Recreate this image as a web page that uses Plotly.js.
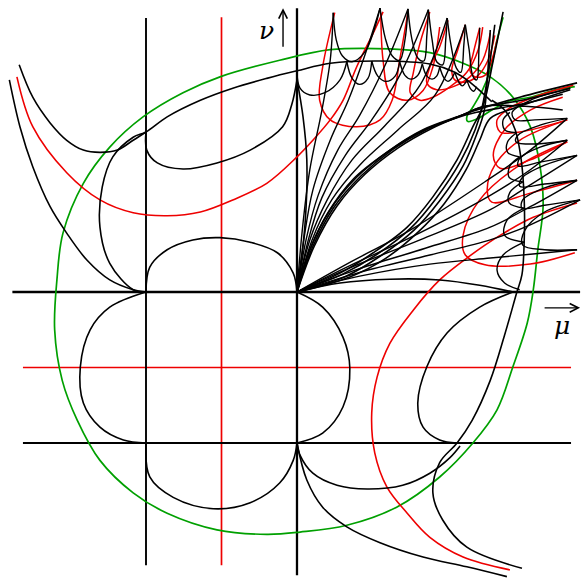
<!DOCTYPE html>
<html>
<head>
<meta charset="utf-8">
<script src="https://cdn.plot.ly/plotly-3.0.1.min.js"></script>
<style>html,body{margin:0;padding:0;background:#fff}#plot{width:581px;height:582px}</style>
</head>
<body>
<div id="plot"></div>
<script>
// Each curve: [mu values], [nu values]  (grid lines sit at mu = -2, -1, 0 and nu = -2, -1, 0)

// straight reference lines
const vLinesBlack = [[-2.00, -2.00], [3.63, -3.62]];
const vLineAxis = [[0, 0], [3.76, -3.75]];
const vLineRed = [[-1.00, -1.00], [3.64, -3.62]];
const hLineAxis = [[-3.77, 3.75], [0, 0]];
const hLineBlack = [[-3.63, 3.63], [-2.00, -2.00]];
const hLineRed = [[-3.63, 3.63], [-1.00, -1.00]];

// left half, upper
const curveA = [[-3.81,-3.67,-3.50,-3.27,-3.05,-2.78,-2.48,-2.17,-2.00],[2.81,2.19,1.66,1.13,0.78,0.42,0.16,0.03,0]];
const curveC = [[-3.68,-3.50,-3.27,-3.05,-2.83,-2.61,-2.38,-2.17,-2.00],[3.01,2.58,2.24,2.01,1.88,1.85,1.88,2.01,2.12]];
const curveD = [[-2.00,-1.99,-1.85,-1.51,-1.06,-0.62,-0.19,-0.07,0],[2.12,1.88,1.71,1.63,1.71,1.88,2.19,2.48,2.81]];
const curveB = [[-2.00,-2.17,-2.48,-2.61,-2.58,-2.44,-2.17,-2.00,-1.72,-1.28,-0.85,-0.40,0,0.44,1.10,1.76,2.09,2.29,2.45,2.58],
                [0,0.03,0.38,0.86,1.39,1.79,2.05,2.12,2.32,2.54,2.70,2.83,2.93,3.03,3.06,3.02,2.91,2.78,2.64,2.52]];
const curveE = [[-2.00,-1.95,-1.72,-1.38,-1.02,-0.62,-0.26,-0.05,0],[0,0.33,0.56,0.69,0.72,0.66,0.52,0.25,0]];
const redLeft = [[-3.71,-3.50,-3.05,-2.61,-2.17,-1.72,-1.28,-0.85,-0.40,0,0.21,0.44,0.61,0.79,1.01,1.14],
                 [2.85,2.19,1.58,1.22,1.05,1.01,1.06,1.22,1.44,1.79,2.01,2.28,2.54,2.98,3.43,3.71]];

// lower half
const curveF = [[-2.00,-2.48,-2.74,-2.87,-2.83,-2.61,-2.30,-2.00],[0,-0.20,-0.50,-0.99,-1.47,-1.79,-1.96,-2.00]];
const curveG = [[-2.00,-1.95,-1.64,-1.11,-0.62,-0.23,-0.05,0],[-2.00,-2.45,-2.72,-2.87,-2.79,-2.53,-2.23,-2.00]];
const curveH = [[0,0.34,0.61,0.70,0.61,0.34,0],[0,-0.20,-0.60,-1.01,-1.52,-1.87,-2.00]];
const curveI = [[0,0.04,0.21,0.53,0.93,1.40,1.76,2.03,2.16],[-2.00,-2.16,-2.40,-2.56,-2.61,-2.56,-2.40,-2.19,-2.04]];
const curveK = [[2.86,2.42,1.99,1.72,1.60,1.67,1.89,2.12],[0,-0.20,-0.54,-0.99,-1.47,-1.79,-1.96,-2.00]];
const curveL = [[0,0.13,0.34,0.66,1.10,1.67,2.25,2.78],[-2.00,-2.49,-2.85,-3.11,-3.32,-3.51,-3.64,-3.77]];
const spineJ = [[2.58,2.75,2.89,2.97,3.01,3.01,2.98,2.91,2.75,2.56,2.32,2.12,1.89,1.80,1.93,2.25,2.98],
                [2.54,2.41,2.15,1.75,1.22,0.69,0.23,-0.01,-0.57,-1.17,-1.70,-2.00,-2.26,-2.66,-3.02,-3.38,-3.66]];
const redRight = [[2.82,2.20,1.76,1.46,1.19,1.03,0.99,1.06,1.23,1.54,1.89,2.25,2.69,3.13,3.71],
                  [-3.68,-3.51,-3.25,-2.93,-2.58,-2.13,-1.60,-1.13,-0.68,-0.24,0.16,0.45,0.75,0.99,1.18]];

// closed green curve and its inner branch
const greenLoop = [[-3.18,-3.21,-3.11,-2.91,-2.61,-2.17,-1.72,-1.06,-0.40,0.04,0.66,1.32,1.89,2.33,2.65,2.86,3.05,3.13,3.19,3.26,3.22,3.09,2.86,2.56,2.20,1.76,1.23,0.44,-0.23,-1.02,-1.51,-2.04,-2.48,-2.83,-3.10,-3.18],
                   [0.16,-0.50,-1.17,-1.70,-2.23,-2.66,-2.93,-3.15,-3.21,-3.18,-3.09,-2.85,-2.45,-2.00,-1.56,-0.99,-0.41,0.03,0.56,1.13,1.66,2.19,2.58,2.85,3.03,3.17,3.22,3.21,3.07,2.85,2.64,2.32,1.92,1.44,0.78,0.16]];
const greenBranch = [[2.73,2.65,2.56,2.46,2.33,2.25,2.26,2.38,2.58,2.82,3.09,3.44,3.68],
                     [3.64,3.34,2.94,2.68,2.45,2.32,2.26,2.29,2.41,2.53,2.58,2.68,2.72]];

// curves along the vertical axis and the low arch on the mu axis
const axisHug = [[0,0.08,0.13,0.11,0.01],[2.81,2.32,1.75,0.95,0.03]];
const lowArch = [[0,0.57,1.23,1.89,2.42,2.86],[0,0.12,0.17,0.16,0.09,0]];

// fan of curves leaving the origin towards the top edge
const fanUp = [
  [[0,0.07,0.17,0.33,0.44,0.48],[0,0.82,1.62,2.41,3.07,3.70]],
  [[0,0.09,0.21,0.44,0.68,0.90,1.10],[0,0.69,1.35,2.01,2.54,3.14,3.76]],
  [[0,0.12,0.28,0.54,0.83,1.17,1.47],[0,0.69,1.28,1.88,2.34,3.01,3.75]],
  [[0,0.15,0.33,0.64,0.99,1.36,1.74],[0,0.69,1.25,1.81,2.28,2.87,3.74]],
  [[0,0.17,0.40,0.73,1.17,1.63,1.99],[0,0.69,1.22,1.75,2.21,2.74,3.63]],
  [[0,0.20,0.46,0.83,1.34,1.83,2.23],[0,0.69,1.22,1.68,2.15,2.61,3.54]]
];
// upper edge of the lens, bending over to the right edge
const lensUpper = [
  [[0,0.17,0.44,0.79,1.23,1.67,2.12,2.38,2.95,3.71],[0,0.56,1.09,1.52,1.88,2.15,2.32,2.41,2.58,2.77]],
  [[0,0.20,0.48,0.85,1.27,1.71,2.16,2.42,2.98,3.62],[0,0.58,1.11,1.54,1.89,2.15,2.33,2.44,2.54,2.70]],
  [[0,0.16,0.41,0.75,1.19,1.63,2.09,2.38,2.98,3.52],[0,0.53,1.05,1.50,1.85,2.12,2.30,2.38,2.49,2.62]],
  [[0,0.23,0.53,0.90,1.34,1.79,2.23,2.48,3.02,3.52],[0,0.61,1.14,1.56,1.91,2.17,2.36,2.46,2.46,2.41]]
];
// lower edge of the lens, bending up to the top edge
const lensLower = [
  [[0,0.57,1.01,1.46,1.80,2.12,2.33,2.46,2.60,2.73],[0,0.25,0.52,0.86,1.26,1.75,2.19,2.45,3.07,3.71]],
  [[0,0.61,1.06,1.51,1.85,2.16,2.36,2.45,2.54,2.62],[0,0.24,0.50,0.85,1.25,1.72,2.15,2.44,2.94,3.54]],
  [[0,0.65,1.11,1.55,1.89,2.20,2.38,2.48,2.52,2.56],[0,0.21,0.48,0.82,1.21,1.67,2.09,2.40,2.81,3.47]],
  [[0,0.70,1.18,1.60,1.95,2.24,2.42,2.56,2.89,3.62],[0,0.20,0.45,0.79,1.17,1.62,2.01,2.30,2.44,2.68]]
];
// fan of curves leaving the origin towards the right edge
const fanRight = [
  [[0,0.83,1.76,2.56,3.09,3.71],[0,0.21,0.37,0.45,0.50,0.56]],
  [[0,0.83,1.76,2.56,3.09,3.75],[0,0.26,0.49,0.69,0.89,1.22]],
  [[0,0.77,1.70,2.56,3.09,3.71],[0,0.29,0.58,0.86,1.13,1.48]],
  [[0,0.70,1.63,2.56,3.09,3.71],[0,0.32,0.69,1.09,1.42,1.81]],
  [[0,0.68,1.56,2.56,3.09,3.58],[0,0.34,0.75,1.28,1.62,2.01]],
  [[0,0.64,1.50,2.49,3.09,3.58],[0,0.36,0.82,1.46,1.88,2.30]]
];

// cusped teeth on the upper arc: spikes above, scallops below
const teethTop = [
  [[0.48,0.52,0.60,0.73,0.90,1.03,1.10],[3.70,3.34,3.13,3.05,3.18,3.50,3.76]],
  [[1.10,1.17,1.26,1.36,1.43,1.47],[3.76,3.36,3.13,3.07,3.34,3.75]],
  [[1.47,1.52,1.60,1.68,1.72,1.74],[3.75,3.36,3.10,3.06,3.40,3.74]],
  [[1.74,1.79,1.85,1.93,1.97,1.99],[3.74,3.34,3.05,3.01,3.34,3.63]],
  [[1.99,2.04,2.11,2.17,2.21,2.23],[3.63,3.27,2.97,2.91,3.27,3.54]],
  [[2.23,2.28,2.33,2.38,2.41,2.42],[3.54,3.21,2.86,2.81,3.21,3.50]]
];
const scallopsTop = [
  [[0,0.04,0.17,0.37,0.57,0.66],[2.90,2.70,2.61,2.64,2.81,3.05]],
  [[0.66,0.73,0.83,0.94,0.99],[3.05,2.83,2.75,2.83,3.06]],
  [[0.99,1.07,1.18,1.30,1.36],[3.06,2.86,2.79,2.86,3.05]],
  [[1.36,1.43,1.51,1.60,1.66],[3.05,2.87,2.82,2.87,3.02]],
  [[1.66,1.72,1.79,1.85,1.89],[3.02,2.86,2.82,2.86,2.98]],
  [[1.89,1.95,2.00,2.05,2.09],[2.98,2.83,2.79,2.83,2.91]],
  [[2.09,2.15,2.19,2.23,2.25],[2.91,2.77,2.73,2.77,2.81]],
  [[2.25,2.30,2.34,2.38],[2.81,2.69,2.66,2.72]]
];
const redLoopsTop = [
  [[0.50,0.34,0.30,0.44,0.79,1.10,1.26,1.36,1.47],[3.70,2.98,2.54,2.28,2.19,2.28,2.54,3.07,3.71]],
  [[1.11,1.14,1.23,1.46,1.67,1.80,1.89],[3.70,3.07,2.64,2.54,2.67,2.98,3.51]],
  [[1.76,1.63,1.54,1.50,1.63,1.80,2.03,2.25,2.40,2.46],[3.71,3.30,2.90,2.64,2.54,2.58,2.72,2.91,3.21,3.51]],
  [[2.00,1.89,1.76,1.72,1.85,2.07,2.29,2.46,2.56],[3.60,3.25,2.98,2.77,2.68,2.72,2.85,3.07,3.43]],
  [[2.23,2.13,2.05,2.09,2.23,2.40,2.53,2.62],[3.54,3.21,2.94,2.81,2.78,2.87,3.07,3.40]],
  [[2.42,2.33,2.29,2.36,2.49,2.58,2.65],[3.50,3.14,2.94,2.85,2.87,3.07,3.34]]
];

// cusped teeth on the right column: spikes to the right, bulges to the left
const teethRight = [
  [[3.62,3.09,2.85,2.89,3.15,3.58],[2.70,2.54,2.38,2.28,2.28,2.30]],
  [[3.58,3.22,2.93,2.90,3.15,3.58],[2.30,2.21,2.08,1.99,1.96,2.01]],
  [[3.58,3.22,2.95,2.93,3.22,3.71],[2.01,1.92,1.77,1.67,1.72,1.81]],
  [[3.71,3.28,2.98,2.95,3.28,3.71],[1.81,1.68,1.51,1.40,1.43,1.48]],
  [[3.71,3.28,2.99,2.98,3.28,3.75],[1.48,1.38,1.22,1.11,1.15,1.22]],
  [[3.75,3.28,3.02,2.99,3.28,3.71],[1.22,1.06,0.82,0.62,0.56,0.56]]
];
const bulgesRight = [
  [[2.82,2.73,2.75,2.91],[2.38,2.28,2.15,2.11]],
  [[2.91,2.79,2.79,2.95],[2.11,1.99,1.85,1.79]],
  [[2.95,2.82,2.81,2.99],[1.79,1.67,1.52,1.46]],
  [[2.99,2.82,2.81,3.01],[1.46,1.32,1.18,1.11]],
  [[3.01,2.78,2.75,3.01],[1.11,0.95,0.75,0.66]],
  [[3.01,2.73,2.65,2.75,2.95],[0.66,0.49,0.29,0.12,0.03]]
];
const redLoopsRight = [
  [[3.66,3.22,2.82,2.65,2.69,2.95,3.58],[2.74,2.61,2.44,2.28,2.12,2.12,2.28]],
  [[3.52,3.09,2.75,2.60,2.69,3.09,3.58],[2.58,2.41,2.15,1.81,1.64,1.75,1.99]],
  [[3.58,2.95,2.62,2.52,2.58,3.09,3.71],[2.28,2.01,1.68,1.35,1.19,1.31,1.48]],
  [[3.58,2.95,2.42,2.20,2.23,2.49,3.09,3.68],[1.99,1.68,1.22,0.75,0.49,0.36,0.37,0.52]]
];

const BLACK = '#000000', RED = '#ee0000', GREEN = '#00a000';
const traces = [];
function add(c, color, width, smooth) {
  traces.push({
    type: 'scatter', mode: 'lines', x: c[0], y: c[1], hoverinfo: 'skip',
    line: {color: color, width: width, shape: smooth ? 'spline' : 'linear', smoothing: 1}
  });
}

add(vLineRed, RED, 1.7, false);
add(hLineRed, RED, 1.7, false);
add(vLinesBlack, BLACK, 1.9, false);
add(vLineAxis, BLACK, 2.3, false);
add(hLineAxis, BLACK, 2.7, false);
add(hLineBlack, BLACK, 1.9, false);

add(greenLoop, GREEN, 1.7, true);
add(greenBranch, GREEN, 1.7, true);

[redLeft, redRight].forEach(c => add(c, RED, 1.6, true));
redLoopsTop.forEach(c => add(c, RED, 1.5, true));
redLoopsRight.forEach(c => add(c, RED, 1.5, true));

[curveA, curveB, curveC, curveD, curveE, curveF, curveG, curveH, curveI, curveK, curveL, spineJ, axisHug, lowArch]
  .forEach(c => add(c, BLACK, 1.6, true));
fanUp.forEach(c => add(c, BLACK, 1.4, true));
fanRight.forEach(c => add(c, BLACK, 1.4, true));
lensUpper.forEach(c => add(c, BLACK, 1.6, true));
lensLower.forEach(c => add(c, BLACK, 1.6, true));
teethTop.forEach(c => add(c, BLACK, 1.4, true));
scallopsTop.forEach(c => add(c, BLACK, 1.4, true));
teethRight.forEach(c => add(c, BLACK, 1.4, true));
bulgesRight.forEach(c => add(c, BLACK, 1.4, true));

const layout = {
  width: 581, height: 582,
  margin: {l: 0, r: 0, t: 0, b: 0},
  paper_bgcolor: '#ffffff', plot_bgcolor: '#ffffff',
  showlegend: false,
  xaxis: {range: [-3.934, 3.762], visible: false, fixedrange: true},
  yaxis: {range: [-3.841, 3.868], visible: false, fixedrange: true},
  annotations: [
    {x: -0.185, y: 3.76, ax: -0.185, ay: 3.23, xref: 'x', yref: 'y', axref: 'x', ayref: 'y',
     showarrow: true, arrowhead: 5, arrowsize: 1.2, arrowwidth: 1.4, arrowcolor: BLACK, text: ''},
    {x: 3.75, y: -0.21, ax: 3.26, ay: -0.21, xref: 'x', yref: 'y', axref: 'x', ayref: 'y',
     showarrow: true, arrowhead: 5, arrowsize: 1.2, arrowwidth: 1.4, arrowcolor: BLACK, text: ''},
    {x: -0.40, y: 3.47, xref: 'x', yref: 'y', showarrow: false, text: '<i>ν</i>',
     font: {family: 'DejaVu Serif, serif', size: 25, color: BLACK}},
    {x: 3.51, y: -0.44, xref: 'x', yref: 'y', showarrow: false, text: '<i>μ</i>',
     font: {family: 'DejaVu Serif, serif', size: 25, color: BLACK}}
  ]
};

Plotly.newPlot('plot', traces, layout, {staticPlot: true, displayModeBar: false});
</script>
</body>
</html>
